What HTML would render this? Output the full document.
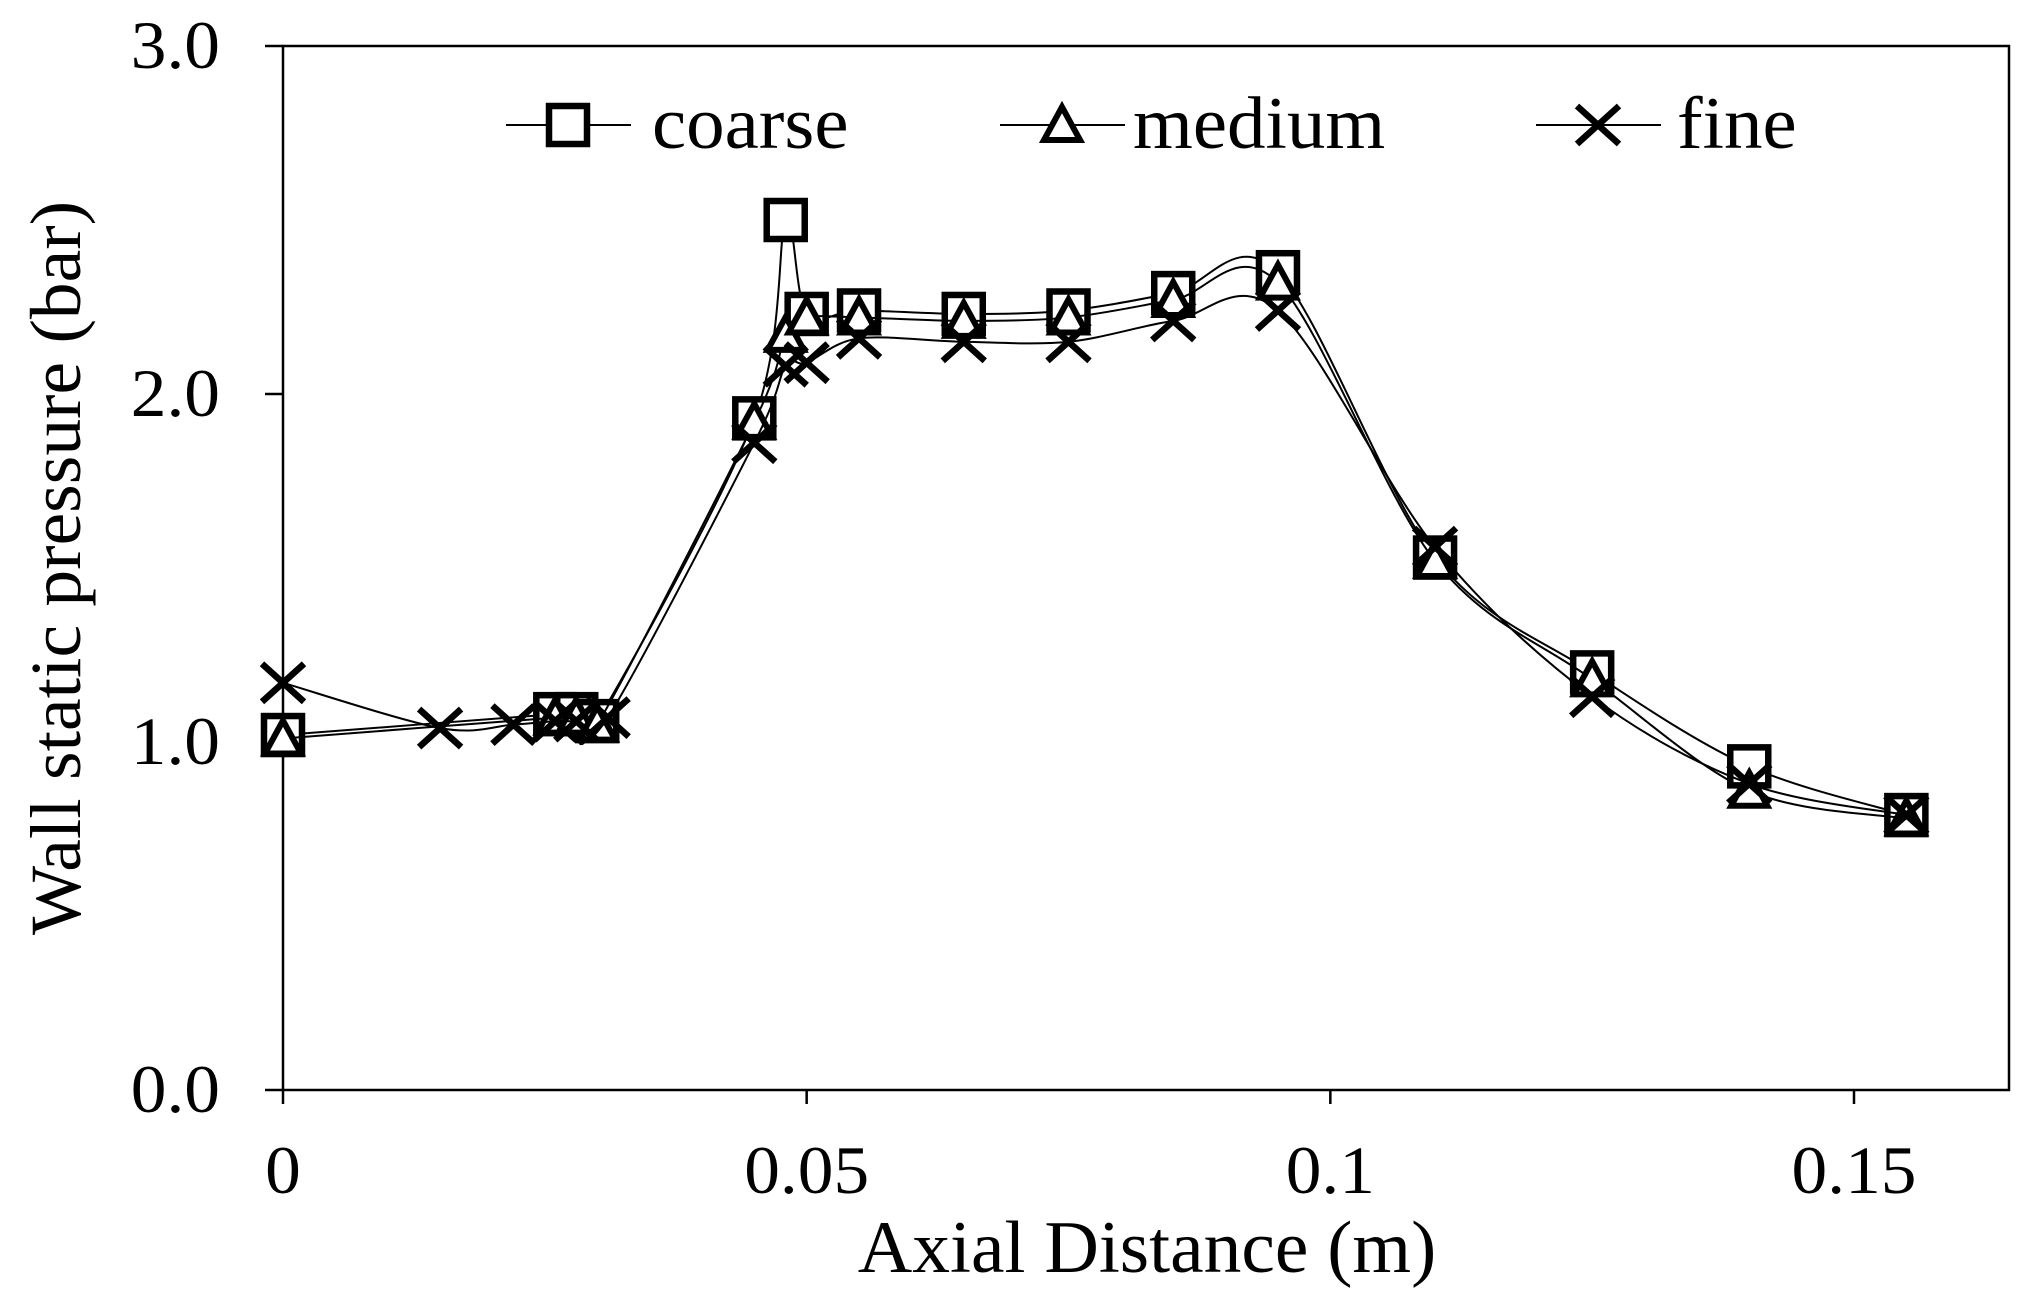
<!DOCTYPE html>
<html><head><meta charset="utf-8"><style>
html,body{margin:0;padding:0;background:#fff;}
svg{display:block;}
text{font-family:"Liberation Serif",serif;fill:#000;}
</style></head><body>
<svg id="chart" width="2026" height="1308" viewBox="0 0 2026 1308" xmlns="http://www.w3.org/2000/svg">
<rect x="283" y="46" width="1726" height="1044" fill="none" stroke="#000" stroke-width="2.5"/>
<g id="axes"></g>
<g id="series"></g>
<g id="legend"></g>
<text x="0" y="0" font-size="74" text-anchor="middle" transform="translate(1147,1272) scale(1.02,1)">Axial Distance (m)</text>
<text x="0" y="0" font-size="72" text-anchor="middle" transform="translate(80,568) rotate(-90) scale(1.02,1)">Wall static pressure (bar)</text>
</svg>
<script>
const xTicks=[0,0.05,0.1,0.15];
const xTickLabels=["0","0.05","0.1","0.15"];
const yTicks=[0,1,2,3];
const yTickLabels=["0.0","1.0","2.0","3.0"];
const coarseX=[0,0.026,0.028,0.03,0.045,0.048,0.05,0.055,0.065,0.075,0.085,0.095,0.11,0.125,0.14,0.155];
const coarseY=[1.02,1.08,1.08,1.06,1.93,2.5,2.23,2.24,2.23,2.24,2.29,2.35,1.53,1.2,0.93,0.79];
const mediumX=[0,0.026,0.028,0.03,0.045,0.048,0.05,0.055,0.065,0.075,0.085,0.095,0.11,0.125,0.14,0.155];
const mediumY=[1.01,1.07,1.07,1.05,1.92,2.17,2.22,2.22,2.21,2.22,2.27,2.32,1.52,1.18,0.86,0.78];
const fineX=[0,0.015,0.022,0.026,0.028,0.031,0.045,0.048,0.05,0.055,0.065,0.075,0.085,0.095,0.11,0.125,0.14,0.155];
const fineY=[1.17,1.04,1.05,1.06,1.06,1.07,1.86,2.08,2.09,2.16,2.15,2.15,2.21,2.24,1.56,1.13,0.88,0.79];

const NS="http://www.w3.org/2000/svg";
const X0=283,X1=2009,Y0=1090,Y1=46;
function sx(v){return X0+v*(1854-283)/0.15;}
function sy(v){return Y0-v*(Y0-Y1)/3;}
function mk(tag,attrs,parent){const e=document.createElementNS(NS,tag);for(const k in attrs)e.setAttribute(k,attrs[k]);parent.appendChild(e);return e;}
const axes=document.getElementById('axes');
xTicks.forEach((t,i)=>{
  const l=mk('line',{x1:sx(t),x2:sx(t),y1:Y0,y2:Y0+14,stroke:'#000','stroke-width':2.5},axes);
  
  
  const tx=mk('text',{x:0,y:0,'font-size':68,'text-anchor':'middle',transform:`translate(${sx(t)},1193) scale(1.05,1)`},axes);
  tx.textContent=xTickLabels[i];
  
  
});
yTicks.forEach((t,i)=>{
  const l=mk('line',{x1:X0-18,x2:X0,y1:sy(t),y2:sy(t),stroke:'#000','stroke-width':2.5},axes);
  
  
  const tx=mk('text',{x:0,y:0,'font-size':68,'text-anchor':'end',transform:`translate(220,${sy(t)+22}) scale(1.05,1)`},axes);
  tx.textContent=yTickLabels[i];
  
  
});
function smooth(pts){
  let d=`M${pts[0][0]},${pts[0][1]}`;
  for(let i=0;i<pts.length-1;i++){
    const p0=pts[Math.max(0,i-1)],p1=pts[i],p2=pts[i+1],p3=pts[Math.min(pts.length-1,i+2)];
    const t=0.16;
    d+=` C${p1[0]+(p2[0]-p0[0])*t},${p1[1]+(p2[1]-p0[1])*t} ${p2[0]-(p3[0]-p1[0])*t},${p2[1]-(p3[1]-p1[1])*t} ${p2[0]},${p2[1]}`;
  }
  return d;
}
function marker(type,x,y,parent){
  let e;
  if(type==='square'){e=mk('rect',{x:x-19,y:y-19,width:38,height:38,fill:'#fff',stroke:'#000','stroke-width':6.5},parent);}
  else if(type==='triangle'){e=mk('path',{d:`M${x},${y-18} L${x+18},${y+15} L${x-18},${y+15} Z`,fill:'#fff',stroke:'#000','stroke-width':6},parent);}
  else {e=mk('path',{d:`M${x-21},${y-19} L${x+21},${y+19} M${x+21},${y-19} L${x-21},${y+19}`,fill:'none',stroke:'#000','stroke-width':6.5},parent);}
  return e;
}
const series=document.getElementById('series');
[[coarseX,coarseY,'square','coarse'],[mediumX,mediumY,'triangle','medium'],[fineX,fineY,'cross','fine']].forEach(([xs,ys,type,name])=>{
  const g=mk('g',{},series);
  
  
  const pts=xs.map((v,i)=>[sx(v),sy(ys[i])]);
  const p=mk('path',{d:smooth(pts),fill:'none',stroke:'#000','stroke-width':2},g);
  
  
  pts.forEach(pt=>{
    const m=marker(type,pt[0],pt[1],g);
    
    
  });
});
const legend=document.getElementById('legend');
[['square','coarse',568,652],['triangle','medium',1062,1133],['cross','fine',1598,1677]].forEach(([type,name,mx,tx])=>{
  const g=mk('g',{},legend);
  
  
  mk('line',{x1:mx-62,x2:mx+63,y1:125,y2:125,stroke:'#000','stroke-width':2},g);
  marker(type,mx,125,g);
  const t=mk('text',{x:0,y:0,'font-size':74,transform:`translate(${tx},148) scale(1.04,1)`},g);
  t.textContent=name;
});
</script>
</body></html>
